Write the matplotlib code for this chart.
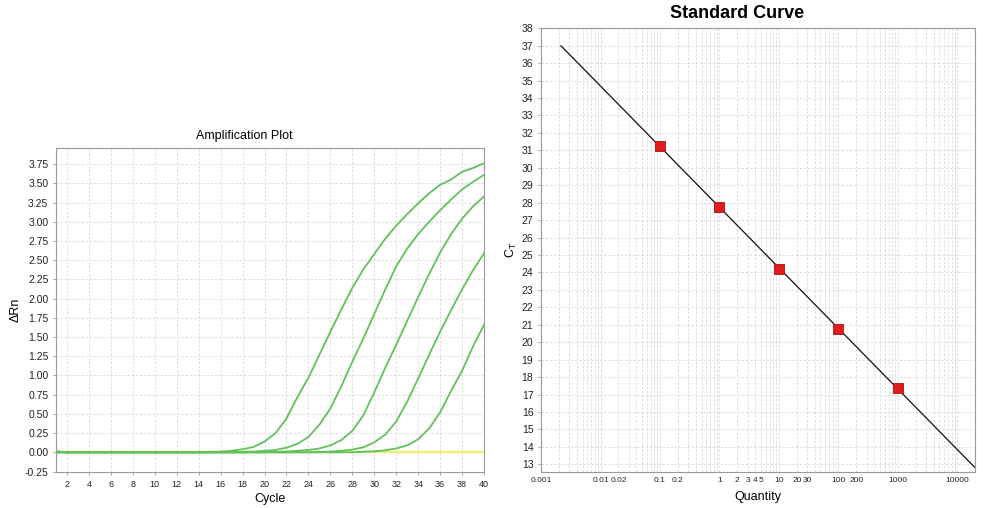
import matplotlib
matplotlib.use("Agg")
import matplotlib.pyplot as plt
import numpy as np
from matplotlib.ticker import FixedLocator, NullFormatter, MultipleLocator

plt.rcParams['font.family'] = ['Liberation Sans', 'DejaVu Sans']

# amplification data (delta Rn per cycle)
cycles = list(range(1, 41))
curve1 = [0.015, 0, 0, 0, 0, 0, 0, 0, 0, 0, 0, 0, 0, 0, 0.005, 0.01, 0.02, 0.04, 0.07, 0.14,
          0.25, 0.44, 0.72, 0.97, 1.27, 1.57, 1.86, 2.14, 2.38, 2.58, 2.78, 2.95, 3.10, 3.24, 3.37,
          3.48, 3.55, 3.65, 3.70, 3.76]
curve2 = [0, 0, 0, 0, 0, 0, 0, 0, 0, 0, 0, 0, 0, 0, 0, 0, 0, 0.005, 0.01, 0.02,
          0.03, 0.06, 0.11, 0.20, 0.36, 0.57, 0.86, 1.18, 1.48, 1.80, 2.12, 2.42, 2.65, 2.84, 3.00,
          3.15, 3.29, 3.42, 3.52, 3.61]
curve3 = [0, 0, 0, 0, 0, 0, 0, 0, 0, 0, 0, 0, 0, 0, 0, 0, 0, 0, 0, 0,
          0.005, 0.01, 0.02, 0.03, 0.05, 0.09, 0.16, 0.28, 0.48, 0.78, 1.10, 1.40, 1.71, 2.02, 2.32,
          2.60, 2.84, 3.04, 3.20, 3.33]
curve4 = [0, 0, 0, 0, 0, 0, 0, 0, 0, 0, 0, 0, 0, 0, 0, 0, 0, 0, 0, 0,
          0, 0, 0, 0, 0.005, 0.01, 0.02, 0.035, 0.065, 0.13, 0.23, 0.40, 0.66, 0.96, 1.27,
          1.57, 1.85, 2.12, 2.37, 2.59]
curve5 = [0, 0, 0, 0, 0, 0, 0, 0, 0, 0, 0, 0, 0, 0, 0, 0, 0, 0, 0, 0,
          0, 0, 0, 0, 0, 0, 0, 0, 0.007, 0.013, 0.026, 0.05, 0.09, 0.17, 0.31,
          0.52, 0.80, 1.06, 1.38, 1.66]
ntc = [0] * 40

# standard curve data
quantity = [0.1, 1, 10, 100, 1000]
ct = [31.27, 27.74, 24.18, 20.74, 17.40]
fit_range = [0.00216, 20000]
qty_ticks = [0.001, 0.01, 0.02, 0.1, 0.2, 1, 2, 3, 4, 5, 10, 20, 30, 100, 200, 1000, 10000]
qty_labels = ["0.001", "0.01", "0.02", "0.1", "0.2", "1", "2", "3", "4", "5",
              "10", "20", "30", "100", "200", "1000", "10000"]

fig = plt.figure(figsize=(9.83, 5.08), dpi=100)

grid_kw = dict(color="#d8d8d8", linestyle=(0, (3, 2)), linewidth=0.6)

def style_axes(ax):
    for s in ax.spines.values():
        s.set_color("#9a9a9a")
    ax.tick_params(colors="#9a9a9a", labelcolor="#222222", length=2, width=0.6)
    ax.set_axisbelow(True)

# amplification plot
ax1 = fig.add_axes([0.0570, 0.0709, 0.4354, 0.6378])
ax1.plot(cycles, ntc, color="#eeee70", linewidth=1.6)
for c in [curve5, curve4, curve3, curve2, curve1]:
    ax1.plot(cycles, c, color="#62c15a", linewidth=1.3)
ax1.set_xlim(1, 40)
ax1.set_ylim(-0.256, 3.96)
ax1.xaxis.set_major_locator(MultipleLocator(2))
ax1.yaxis.set_major_locator(FixedLocator(np.arange(-0.25, 3.8, 0.25)))
ax1.yaxis.set_major_formatter(matplotlib.ticker.FormatStrFormatter("%.2f"))
ax1.tick_params(axis="x", labelsize=6.5)
ax1.tick_params(axis="y", labelsize=7.5)
ax1.grid(True, **grid_kw)
style_axes(ax1)
fig.text(244 / 983, 1 - 136 / 508, "Amplification Plot", fontsize=9, ha="center", va="center")
ax1.set_xlabel("Cycle", fontsize=9, labelpad=3)
ax1.set_ylabel("ΔRn", fontsize=9, labelpad=2)

# standard curve
ax2 = fig.add_axes([0.5504, 0.0709, 0.4415, 0.8734])
slope, intercept = np.polyfit(np.log10(quantity), ct, 1)
fx = np.array(fit_range)
ax2.plot(fx, slope * np.log10(fx) + intercept, color="#111111", linewidth=0.9)
ax2.plot(quantity, ct, linestyle="none", marker="s", markersize=7,
         markerfacecolor="#e01c1c", markeredgecolor="#b01010", markeredgewidth=0.6)
ax2.set_xscale("log")
ax2.set_xlim(0.001, 19870)
ax2.set_ylim(12.56, 38)
minor = [m * 10.0 ** e for e in range(-3, 5) for m in range(1, 10)]
ax2.xaxis.set_major_locator(FixedLocator(qty_ticks))
ax2.xaxis.set_major_formatter(matplotlib.ticker.FixedFormatter(qty_labels))
ax2.xaxis.set_minor_locator(FixedLocator(minor))
ax2.xaxis.set_minor_formatter(NullFormatter())
ax2.yaxis.set_major_locator(MultipleLocator(1))
ax2.tick_params(axis="x", which="both", length=0, labelsize=6)
ax2.tick_params(axis="y", labelsize=7.5)
ax2.grid(True, which="both", **grid_kw)
style_axes(ax2)
ax2.tick_params(axis="x", which="both", length=0)
fig.text(737 / 983, 1 - 14 / 508, "Standard Curve", fontsize=13, fontweight="bold",
         ha="center", va="center")
ax2.set_xlabel("Quantity", fontsize=9, labelpad=5)
ax2.set_ylabel("C$_\\mathregular{T}$", fontsize=9, labelpad=2)

fig.savefig("out.png", dpi=100)
